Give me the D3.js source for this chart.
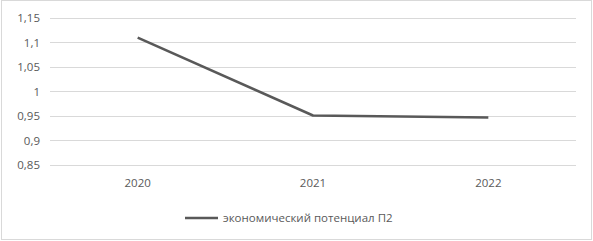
<!DOCTYPE html>
<html>
<head>
<meta charset="utf-8">
<script src="https://cdn.jsdelivr.net/npm/d3@7"></script>
<style>
  body { margin: 0; background: #fff; }
  text { font-family: "Open Sans", "Liberation Sans", sans-serif; fill: #595959; }
</style>
</head>
<body>
<div class="chart"></div>
<script>
// chart data
var years = ["2020", "2021", "2022"];
var values = [1.11, 0.951, 0.947];
var yTicks = [0.85, 0.9, 0.95, 1, 1.05, 1.1, 1.15];
var seriesName = "экономический потенциал П2";

var svgWidth = 593;
var svgHeight = 241;

var margin = { top: 18, right: 17, bottom: 76, left: 50 };
var width = svgWidth - margin.left - margin.right;
var height = svgHeight - margin.top - margin.bottom;

var svg = d3.select(".chart")
    .append("svg")
    .attr("width", svgWidth)
    .attr("height", svgHeight);

// outer border
svg.append("rect")
    .attr("x", 1.5)
    .attr("y", 0.5)
    .attr("width", svgWidth - 3)
    .attr("height", svgHeight - 2)
    .attr("fill", "none")
    .attr("stroke", "#d9d9d9");

var chartGroup = svg.append("g")
    .attr("transform", `translate(${margin.left}, ${margin.top})`);

var xScale = d3.scaleBand()
    .domain(years)
    .range([0, width]);

var yScale = d3.scaleLinear()
    .domain([0.85, 1.15])
    .range([height, 0]);

var fmt = d => d3.format(".3~f")(d).replace(".", ",");

// gridlines
chartGroup.selectAll(".grid")
    .data(yTicks)
    .enter()
    .append("line")
    .attr("x1", 0)
    .attr("x2", width)
    .attr("y1", d => Math.round(yScale(d)) + 0.5)
    .attr("y2", d => Math.round(yScale(d)) + 0.5)
    .attr("stroke", "#d9d9d9")
    .attr("stroke-width", 1);

// y labels
var leftAxis = d3.axisLeft(yScale)
    .tickValues(yTicks)
    .tickFormat(fmt)
    .tickSize(0)
    .tickPadding(10);

var yAxis = chartGroup.append("g").call(leftAxis);
yAxis.select(".domain").remove();
yAxis.selectAll("text").style("font-size", "11.5px");

// x labels
var bottomAxis = d3.axisBottom(xScale)
    .tickSize(0)
    .tickPadding(14);

var xAxis = chartGroup.append("g")
    .attr("transform", `translate(0, ${height})`)
    .call(bottomAxis);
xAxis.select(".domain").remove();
xAxis.selectAll("text").style("font-size", "11.5px");

// line
var line = d3.line()
    .x((d, i) => xScale(years[i]) + xScale.bandwidth() / 2)
    .y(d => yScale(d));

chartGroup.append("path")
    .datum(values)
    .attr("d", line)
    .attr("fill", "none")
    .attr("stroke", "#595959")
    .attr("stroke-width", 2.5)
    .attr("stroke-linejoin", "round");

// legend
var legend = svg.append("g")
    .attr("transform", "translate(185, 218)");

legend.append("line")
    .attr("x1", 0)
    .attr("x2", 33)
    .attr("y1", 0)
    .attr("y2", 0)
    .attr("stroke", "#595959")
    .attr("stroke-width", 2.5);

legend.append("text")
    .attr("x", 38)
    .attr("y", 0)
    .attr("dy", "0.35em")
    .style("font-size", "11.5px")
    .text(seriesName);
</script>
</body>
</html>
